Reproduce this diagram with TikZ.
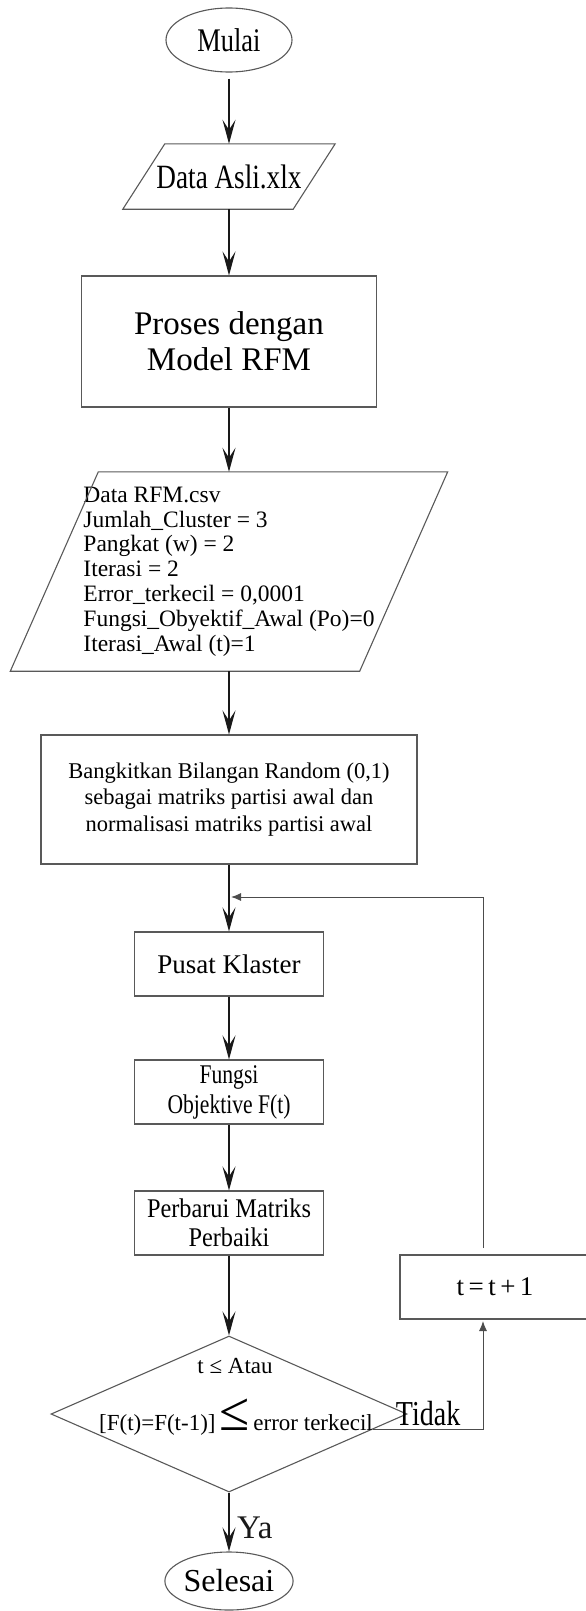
\documentclass[tikz,border=0pt]{standalone}
\usepackage{fontspec}
\setmainfont{Liberation Serif}
\newfontfamily\narrowfont[FakeStretch=0.8]{Liberation Serif}
\newfontfamily\halfnarrowfont[FakeStretch=0.9]{Liberation Serif}
\usetikzlibrary{arrows,arrows.meta,positioning,shapes.geometric}

\newcommand{\fsize}[2]{\fontsize{#1}{#2}\selectfont}

\begin{document}
\begin{tikzpicture}[x=1pt, y=-1pt, >={Stealth[length=24pt,width=13pt,inset=10pt]},
  flow/.style={->, line width=1.8pt, black!90},
  box/.style={rectangle, draw=black!65, line width=1.1pt, align=center},
  io/.style={rectangle, inner sep=2pt},
  iobox/.style={draw=black!65, line width=1.1pt, line join=miter},
  term/.style={ellipse, draw=black!65, line width=1.1pt, inner sep=0pt},
  back/.style={draw=black!70, line width=1pt}]

\useasboundingbox (0,0) rectangle (586,1611);

% Define nodes
\node[term, minimum width=126pt, minimum height=64pt, font={\narrowfont\fsize{33}{36}}] (mulai) at (229,40) {Mulai};
\node[io, minimum width=170pt, minimum height=65pt, font={\narrowfont\fsize{34}{36}}] (asli) at (229,176.5) {Data Asli.xlx};
\node[box, minimum width=295pt, minimum height=131pt, font={\fsize{33}{36}}] (proses) at (229,341.5) {Proses dengan\\Model RFM};
\node[io, minimum width=349pt, minimum height=199pt, align=left, font={\fsize{23.5}{24.8}}] (rfm) at (229,571.5)
  {Data RFM.csv\\Jumlah\_Cluster = 3\\Pangkat (w) = 2\\Iterasi = 2\\Error\_terkecil = 0,0001\\Fungsi\_Obyektif\_Awal (Po)=0\\Iterasi\_Awal (t)=1};
\node[box, minimum width=376pt, minimum height=129pt, font={\fsize{22.5}{26.5}}] (acak) at (229,799.5)
  {Bangkitkan Bilangan Random (0,1)\\sebagai matriks partisi awal dan\\normalisasi matriks partisi awal};
\node[box, minimum width=189pt, minimum height=64pt, font={\fsize{27}{30}}] (pusat) at (229,964) {Pusat Klaster};
\node[box, minimum width=189pt, minimum height=64pt, font={\narrowfont\fsize{27}{30}}] (fungsi) at (229,1092) {Fungsi\\Objektive F(t)};
\node[box, minimum width=189pt, minimum height=64pt, font={\halfnarrowfont\fsize{27}{29}}] (perbarui) at (229,1223) {Perbarui Matriks\\Perbaiki};
\node[diamond, draw=black!65, line width=1.1pt, minimum width=356pt, minimum height=156pt, inner sep=0pt] (cek) at (229,1414) {};
\node[anchor=base, font={\fsize{23}{24}}] (syarat1) at (235,1373) {t ≤ Atau};
\node[anchor=base, font={\fsize{23}{26}}] (syarat2) at (236,1430) {[F(t)=F(t-1)]\,{\fsize{55}{55}≤}\,error terkecil};
\node[box, minimum width=190pt, minimum height=64pt, font={\fsize{27}{30}}] (tambah) at (495,1287) {t\,=\,t\,+\,1};
\node[term, minimum width=126pt, minimum height=58pt, font={\fsize{32}{34}}] (selesai) at (229,1581) {Selesai};

% Input/output outlines
\draw[iobox] ([xshift=21pt]asli.north west) -- ([xshift=21pt]asli.north east)
  -- ([xshift=-21pt]asli.south east) -- ([xshift=-21pt]asli.south west) -- cycle;
\draw[iobox] ([xshift=44pt]rfm.north west) -- ([xshift=44pt]rfm.north east)
  -- ([xshift=-44pt]rfm.south east) -- ([xshift=-44pt]rfm.south west) -- cycle;

% Loop coordinates
\coordinate (naik) at (483,1248);
\coordinate (gabung) at (231,897);
\coordinate (masuk) at (483,1321);

% Draw edges
\path
  (mulai) edge[flow, shorten <=6pt] (asli)
  (asli) edge[flow] (proses)
  (proses) edge[flow] (rfm)
  (rfm) edge[flow] (acak)
  (acak) edge[flow] (pusat)
  (pusat) edge[flow] (fungsi)
  (fungsi) edge[flow] (perbarui)
  (perbarui) edge[flow] (cek)
  (cek) edge[flow] node[right, pos=0.6, xshift=4pt, font={\fsize{33}{36}}] {Ya} (selesai);

% Back to cluster centres
\draw[back, -{Latex[length=10pt,width=8pt]}] (cek.-6) -| node[pos=0.25, above, inner sep=3pt, font={\narrowfont\fsize{35}{36}}] {Tidak} (masuk);
\draw[back, -{Latex[length=10pt,width=8pt]}] (naik) |- (gabung);

\end{tikzpicture}
\end{document}
